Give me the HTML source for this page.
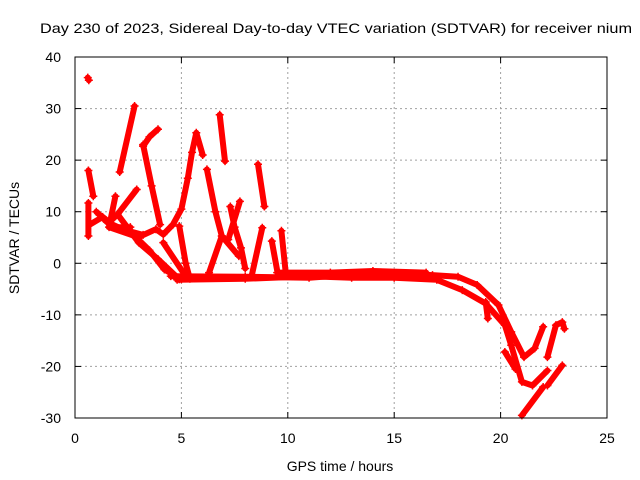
<!DOCTYPE html>
<html><head><meta charset="utf-8"><style>
html,body{margin:0;padding:0;background:#fff;}
svg{display:block;font-family:"Liberation Sans",sans-serif;}
</style></head><body>
<svg id="chart" width="640" height="480">
<rect x="0" y="0" width="640" height="480" fill="#fff"/>
<text x="336" y="33" font-size="14" text-anchor="middle" textLength="592" lengthAdjust="spacingAndGlyphs">Day 230 of 2023, Sidereal Day-to-day VTEC variation (SDTVAR) for receiver nium</text>
<g id="grid"></g>
<g id="ticks"></g>
<g id="data"></g>
<rect x="75" y="57" width="532" height="361" fill="none" stroke="#000" stroke-width="1"/>
<text x="340" y="471" font-size="14" text-anchor="middle">GPS time / hours</text>
<text transform="translate(19,238) rotate(-90)" font-size="14" text-anchor="middle">SDTVAR / TECUs</text>
</svg>
<script>
const xTicks=[0,5,10,15,20,25];
const yTicks=[-30,-20,-10,0,10,20,30,40];
const track01=[[0.6,36],[0.65,35.5]];
const track02=[[0.63,18],[0.86,13]];
const track03=[[2.8,30.5],[2.1,17.7]];
const track04=[[3.9,26],[3.5,24.5],[3.2,22.7]];
const track05=[[3.2,23],[3.6,15],[4.0,7.5]];
const track06=[[4.15,5.6],[4.6,7.5],[5.0,10.5],[5.3,16.5],[5.5,21.5],[5.7,25.3],[6.0,21]];
const track07=[[6.2,18.2],[6.6,10],[6.9,5.3],[7.7,1.4]];
const track08=[[6.9,5.3],[6.3,-1.8]];
const track09=[[6.8,28.8],[7.05,19.8]];
const track10=[[8.6,19.2],[8.9,11]];
const track11=[[7.75,12],[7.2,4.6]];
const track12=[[8.8,6.9],[8.3,-2.5]];
const track13=[[9.7,6.3],[9.9,-1.8]];
const track14=[[9.25,4.3],[9.55,-2.5]];
const track15=[[0.63,11.7],[0.63,5.3]];
const track16=[[1.9,13],[1.6,7],[2.8,5.3],[3.5,2.5],[4.2,-1.2],[5.0,-3.1]];
const track17=[[2.9,14.3],[2.0,9.5],[1.6,7.9]];
const track18=[[2.0,9.5],[3.0,4],[3.9,0.8],[4.9,-3.1]];
const track19=[[3.1,5.3],[3.8,6.6],[4.15,5.6]];
const track20=[[4.9,7.2],[5.2,0],[5.4,-3]];
const track21=[[4.15,4],[5.2,-2.5]];
const track22=[[0.7,7.5],[1.3,9],[1.9,7],[2.6,7]];
const track23=[[1.0,10],[1.5,8],[2.3,6.5],[3.2,5.5]];
const track24=[[4.5,-2.5],[8,-2.6],[11,-2.8],[13,-2.2],[15,-2],[16.8,-2.3],[18,-2.6],[18.9,-4.2],[19.9,-8.1],[20.5,-13.3],[21.1,-18.2],[21.6,-16.5],[22,-12.3]];
const track25=[[4.8,-3.2],[8,-3],[11,-2.5],[13,-2.8],[15,-2.8],[17,-3.2],[18.2,-5.2],[19.3,-7.8],[20.2,-12],[20.5,-15.9],[21.0,-23],[21.5,-23.7],[22.2,-20.8]];
const track26=[[19.3,-7.5],[19.4,-10.7]];
const track27=[[20.2,-17.2],[20.7,-20.5]];
const track28=[[22.2,-18.2],[22.6,-12],[22.9,-11.4],[23.0,-12.7]];
const track29=[[22.2,-23.7],[22.9,-19.8]];
const track30=[[21.0,-29.5],[22.0,-24]];
const track31=[[7.3,11],[7.5,7],[7.8,3],[8.0,-1]];
const track32=[[9.5,-1.8],[12,-1.8],[14,-1.5],[16.5,-1.8]];
const tracks=[track01,track02,track03,track04,track05,track06,track07,track08,track09,track10,track11,track12,track13,track14,track15,track16,track17,track18,track19,track20,track21,track22,track23,track24,track25,track26,track27,track28,track29,track30,track31,track32];

const X0=75,X1=607,Y0=418,Y1=57;
function xs(v){return X0+(v-0)/(25-0)*(X1-X0);}
function ys(v){return Y0-(v+30)/(70)*(Y0-Y1);}
const NS='http://www.w3.org/2000/svg';
const grid=document.getElementById('grid'),ticks=document.getElementById('ticks'),data=document.getElementById('data');
function mk(tag,attrs,parent){const e=document.createElementNS(NS,tag);for(const k in attrs)e.setAttribute(k,attrs[k]);parent.appendChild(e);return e;}
xTicks.forEach(t=>{
  const x=xs(t);
  if(t>0&&t<25){const g=mk('line',{x1:x,y1:Y1,x2:x,y2:Y0,stroke:'#a0a0a0','stroke-dasharray':'2,3'},grid);
  
  }
  mk('line',{x1:x,y1:Y0,x2:x,y2:Y0-6,stroke:'#000'},ticks);
  mk('line',{x1:x,y1:Y1,x2:x,y2:Y1+6,stroke:'#000'},ticks);
  const l=mk('text',{x:x,y:443,'font-size':14,'text-anchor':'middle'},ticks);
  l.textContent=t;
  
  
});
yTicks.forEach(t=>{
  const y=ys(t);
  if(t>-30&&t<40){const g=mk('line',{x1:X0,y1:y,x2:X1,y2:y,stroke:'#a0a0a0','stroke-dasharray':'2,3'},grid);
  
  }
  mk('line',{x1:X0,y1:y,x2:X0+6,y2:y,stroke:'#000'},ticks);
  mk('line',{x1:X1,y1:y,x2:X1-6,y2:y,stroke:'#000'},ticks);
  const l=mk('text',{x:61,y:y+5,'font-size':14,'text-anchor':'end'},ticks);
  l.textContent=t;
  
  
});
tracks.forEach((tr,i)=>{
  const pts=tr.map(p=>xs(p[0]).toFixed(1)+','+ys(p[1]).toFixed(1)).join(' ');
  const pl=mk('polyline',{points:pts,fill:'none',stroke:'#ff0000','stroke-width':6,'stroke-linejoin':'round','stroke-linecap':'round'},data);
  
  
  tr.forEach(p=>{
    const x=xs(p[0]),y=ys(p[1]);
    const m=mk('path',{d:`M${x-4},${y}H${x+4}M${x},${y-4}V${y+4}`,stroke:'#ff0000','stroke-width':1.5},data);
    
    
  });
});
</script>
</body></html>
